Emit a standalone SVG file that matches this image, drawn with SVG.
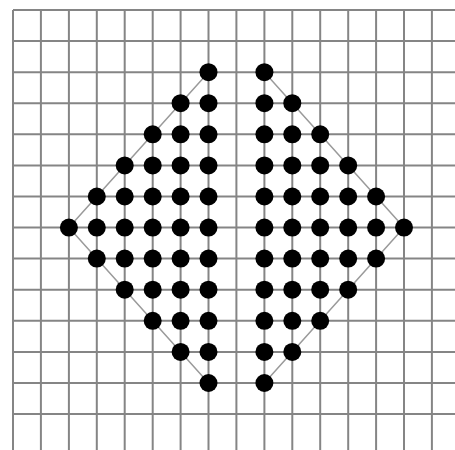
<svg xmlns="http://www.w3.org/2000/svg" width="455" height="450" viewBox="0 0 455 450">
<style>
.g{stroke:#858585;stroke-width:2;fill:none}
.e{stroke:#9a9a9a;stroke-width:1.5;fill:none}
.d{fill:#000}
</style>
<rect width="455" height="450" fill="#fff"/>
<g id="grid" class="g">
<path d="M13,10H455M13,41.1H455M13,72.2H455M13,103.2H455M13,134.3H455M13,165.4H455M13,196.5H455M13,227.6H455M13,258.6H455M13,289.7H455M13,320.8H455M13,351.9H455M13,383H455M13,414H455"/>
<path d="M13,10V450M40.9,10V450M68.9,10V450M96.8,10V450M124.7,10V450M152.7,10V450M180.6,10V450M208.5,10V450M236.4,10V450M264.4,10V450M292.3,10V450M320.2,10V450M348.2,10V450M376.1,10V450M404,10V450M431.9,10V450"/>
</g>
<g id="connectors" class="e">
<path d="M208.5,72.2L68.9,227.6L208.5,383"/>
<path d="M264.4,72.2L404,227.6L264.4,383"/>
</g>
<g id="left-half" class="d">
<circle cx="68.9" cy="227.6" r="9"/>
<circle cx="96.8" cy="196.5" r="9"/><circle cx="96.8" cy="227.6" r="9"/><circle cx="96.8" cy="258.6" r="9"/>
<circle cx="124.7" cy="165.4" r="9"/><circle cx="124.7" cy="196.5" r="9"/><circle cx="124.7" cy="227.6" r="9"/><circle cx="124.7" cy="258.6" r="9"/><circle cx="124.7" cy="289.7" r="9"/>
<circle cx="152.7" cy="134.3" r="9"/><circle cx="152.7" cy="165.4" r="9"/><circle cx="152.7" cy="196.5" r="9"/><circle cx="152.7" cy="227.6" r="9"/><circle cx="152.7" cy="258.6" r="9"/><circle cx="152.7" cy="289.7" r="9"/><circle cx="152.7" cy="320.8" r="9"/>
<circle cx="180.6" cy="103.2" r="9"/><circle cx="180.6" cy="134.3" r="9"/><circle cx="180.6" cy="165.4" r="9"/><circle cx="180.6" cy="196.5" r="9"/><circle cx="180.6" cy="227.6" r="9"/><circle cx="180.6" cy="258.6" r="9"/><circle cx="180.6" cy="289.7" r="9"/><circle cx="180.6" cy="320.8" r="9"/><circle cx="180.6" cy="351.9" r="9"/>
<circle cx="208.5" cy="72.2" r="9"/><circle cx="208.5" cy="103.2" r="9"/><circle cx="208.5" cy="134.3" r="9"/><circle cx="208.5" cy="165.4" r="9"/><circle cx="208.5" cy="196.5" r="9"/><circle cx="208.5" cy="227.6" r="9"/><circle cx="208.5" cy="258.6" r="9"/><circle cx="208.5" cy="289.7" r="9"/><circle cx="208.5" cy="320.8" r="9"/><circle cx="208.5" cy="351.9" r="9"/><circle cx="208.5" cy="383" r="9"/>
</g>
<g id="right-half" class="d">
<circle cx="264.4" cy="72.2" r="9"/><circle cx="264.4" cy="103.2" r="9"/><circle cx="264.4" cy="134.3" r="9"/><circle cx="264.4" cy="165.4" r="9"/><circle cx="264.4" cy="196.5" r="9"/><circle cx="264.4" cy="227.6" r="9"/><circle cx="264.4" cy="258.6" r="9"/><circle cx="264.4" cy="289.7" r="9"/><circle cx="264.4" cy="320.8" r="9"/><circle cx="264.4" cy="351.9" r="9"/><circle cx="264.4" cy="383" r="9"/>
<circle cx="292.3" cy="103.2" r="9"/><circle cx="292.3" cy="134.3" r="9"/><circle cx="292.3" cy="165.4" r="9"/><circle cx="292.3" cy="196.5" r="9"/><circle cx="292.3" cy="227.6" r="9"/><circle cx="292.3" cy="258.6" r="9"/><circle cx="292.3" cy="289.7" r="9"/><circle cx="292.3" cy="320.8" r="9"/><circle cx="292.3" cy="351.9" r="9"/>
<circle cx="320.2" cy="134.3" r="9"/><circle cx="320.2" cy="165.4" r="9"/><circle cx="320.2" cy="196.5" r="9"/><circle cx="320.2" cy="227.6" r="9"/><circle cx="320.2" cy="258.6" r="9"/><circle cx="320.2" cy="289.7" r="9"/><circle cx="320.2" cy="320.8" r="9"/>
<circle cx="348.2" cy="165.4" r="9"/><circle cx="348.2" cy="196.5" r="9"/><circle cx="348.2" cy="227.6" r="9"/><circle cx="348.2" cy="258.6" r="9"/><circle cx="348.2" cy="289.7" r="9"/>
<circle cx="376.1" cy="196.5" r="9"/><circle cx="376.1" cy="227.6" r="9"/><circle cx="376.1" cy="258.6" r="9"/>
<circle cx="404" cy="227.6" r="9"/>
</g>
</svg>
